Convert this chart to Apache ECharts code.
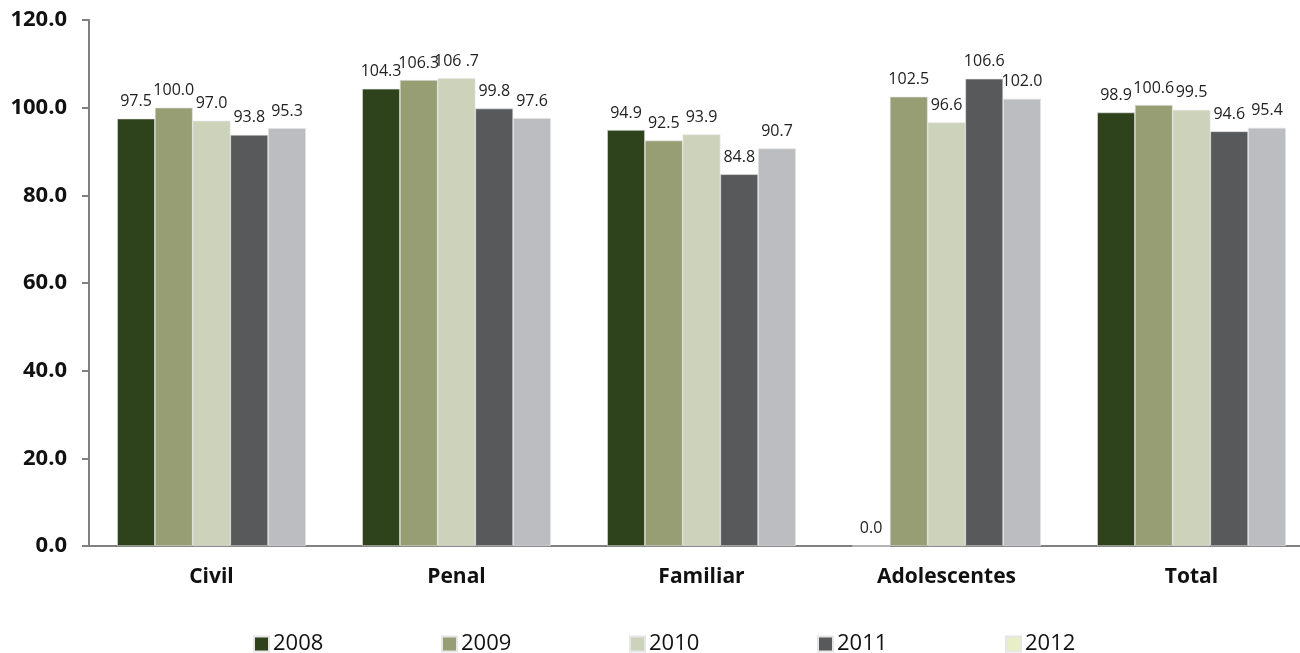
<!DOCTYPE html>
<html>
<head>
<meta charset="utf-8">
<script src="https://cdn.jsdelivr.net/npm/echarts@6/dist/echarts.min.js"></script>
<style>html,body{margin:0;padding:0;background:#fff}#c{width:1300px;height:653px}</style>
</head>
<body>
<div id="c"></div>
<script>
const categories = ['Civil', 'Penal', 'Familiar', 'Adolescentes', 'Total'];
const years = ['2008', '2009', '2010', '2011', '2012'];
const v2008 = [97.5, 104.3, 94.9, 0.0, 98.9];
const v2009 = [100.0, 106.3, 92.5, 102.5, 100.6];
const v2010 = [97.0, 106.7, 93.9, 96.6, 99.5];
const v2011 = [93.8, 99.8, 84.8, 106.6, 94.6];
const v2012 = [95.3, 97.6, 90.7, 102.0, 95.4];
const labels2010 = ['97.0', '106 .7', '93.9', '96.6', '99.5'];
const yTicks = [0, 20, 40, 60, 80, 100, 120];

const barColors = ['#2E421C', '#979E74', '#CDD2BB', '#58595B', '#BCBDC1'];
const legendColors = ['#2E421C', '#979E74', '#CDD2BB', '#58595B', '#E8EFC6'];
const values = [v2008, v2009, v2010, v2011, v2012];
const font = '"Open Sans", "Noto Sans", sans-serif';

const series = years.map((y, i) => ({
  name: y,
  type: 'bar',
  data: values[i],
  barGap: '0%',
  barCategoryGap: '23%',
  itemStyle: { color: barColors[i], borderColor: '#e6e6e6', borderWidth: 0.6 },
  label: {
    show: true,
    position: 'top',
    distance: 9,
    fontFamily: font,
    fontSize: 16,
    color: '#222',
    formatter: i === 2 ? (p => labels2010[p.dataIndex]) : (p => p.value.toFixed(1))
  }
}));

const legendX = [253, 441, 629, 817, 1005];
const legends = years.map((y, i) => ({
  data: [{ name: y, itemStyle: { color: legendColors[i] } }],
  left: legendX[i],
  top: 633,
  padding: 0,
  itemWidth: 15,
  itemHeight: 15,
  itemGap: 0,
  icon: 'rect',
  textStyle: { fontFamily: font, fontSize: 22, color: '#111', padding: [0, 0, 0, -1] },
  selectedMode: false
}));

const chart = echarts.init(document.getElementById('c'));
chart.setOption({
  animation: false,
  backgroundColor: '#fff',
  grid: { left: 89, width: 1225, top: 20, height: 526, containLabel: false, outerBoundsMode: 'none' },
  legend: legends,
  xAxis: {
    type: 'category',
    data: categories,
    axisLine: { lineStyle: { color: '#808080', width: 2 } },
    axisTick: { show: false },
    axisLabel: { fontFamily: font, fontSize: 21, fontWeight: 'bold', color: '#111', margin: 21 }
  },
  yAxis: {
    type: 'value',
    min: yTicks[0],
    max: yTicks[yTicks.length - 1],
    interval: 20,
    axisLine: { show: true, lineStyle: { color: '#808080', width: 2 } },
    axisTick: { show: true, length: 7, lineStyle: { color: '#808080', width: 2 } },
    splitLine: { show: false },
    axisLabel: { fontFamily: font, fontSize: 22, fontWeight: 'bold', color: '#111', margin: 22,
      formatter: v => v.toFixed(1) }
  },
  series: series
});
</script>
</body>
</html>
